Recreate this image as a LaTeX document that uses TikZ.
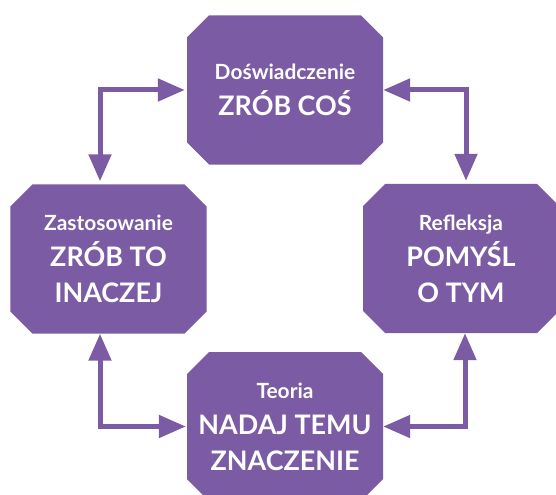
\documentclass[tikz,border=0pt]{standalone}
\usepackage{fontspec}
\setmainfont{Lato}
\usetikzlibrary{arrows.meta}
\definecolor{cyclepurple}{HTML}{7B5BA3}
\tikzset{
  stage/.style={rectangle, draw=none, minimum width=196bp, minimum height=149bp,
    inner sep=0pt, text=white, align=center,
    font=\bfseries\fontsize{27}{36}\selectfont,
    path picture={
      \fill[cyclepurple]
        ([xshift=22bp]path picture bounding box.north west)
        -- ([xshift=-22bp]path picture bounding box.north east)
        -- ([yshift=-22bp]path picture bounding box.north east)
        -- ([yshift=22bp]path picture bounding box.south east)
        -- ([xshift=-22bp]path picture bounding box.south east)
        -- ([xshift=22bp]path picture bounding box.south west)
        -- ([yshift=22bp]path picture bounding box.south west)
        -- ([yshift=-22bp]path picture bounding box.north west)
        -- cycle;
    }},
  link/.style={draw=cyclepurple, line width=5bp,
    {Triangle[width=22bp,length=27bp]}-{Triangle[width=22bp,length=27bp]}},
}
\newcommand{\smallline}[1]{{\fontsize{21}{24}\selectfont #1}}
\begin{document}
\begin{tikzpicture}[x=1bp,y=-1bp]
\useasboundingbox (0,0) rectangle (556,495);
\node[stage] (T) at (285,90)  {\smallline{Doświadczenie}\\ZRÓB COŚ};
\node[stage] (R) at (461,258.5) {\smallline{Refleksja}\\POMYŚL\\O TYM};
\node[stage] (B) at (285,426.5) {\smallline{Teoria}\\NADAJ TEMU\\ZNACZENIE};
\node[stage] (L) at (108.5,259) {\smallline{Zastosowanie}\\ZRÓB TO\\INACZEJ};
\draw[link] ([xshift=-8.5bp,yshift=3bp]L.north) |- ([xshift=-2bp]T.west);
\draw[link] (T.east) -| ([xshift=5bp,yshift=3bp]R.north);
\draw[link] ([xshift=4bp]R.south) |- (B.east);
\draw[link] ([xshift=-8.5bp]L.south) |- ([xshift=-1bp]B.west);
\end{tikzpicture}
\end{document}
